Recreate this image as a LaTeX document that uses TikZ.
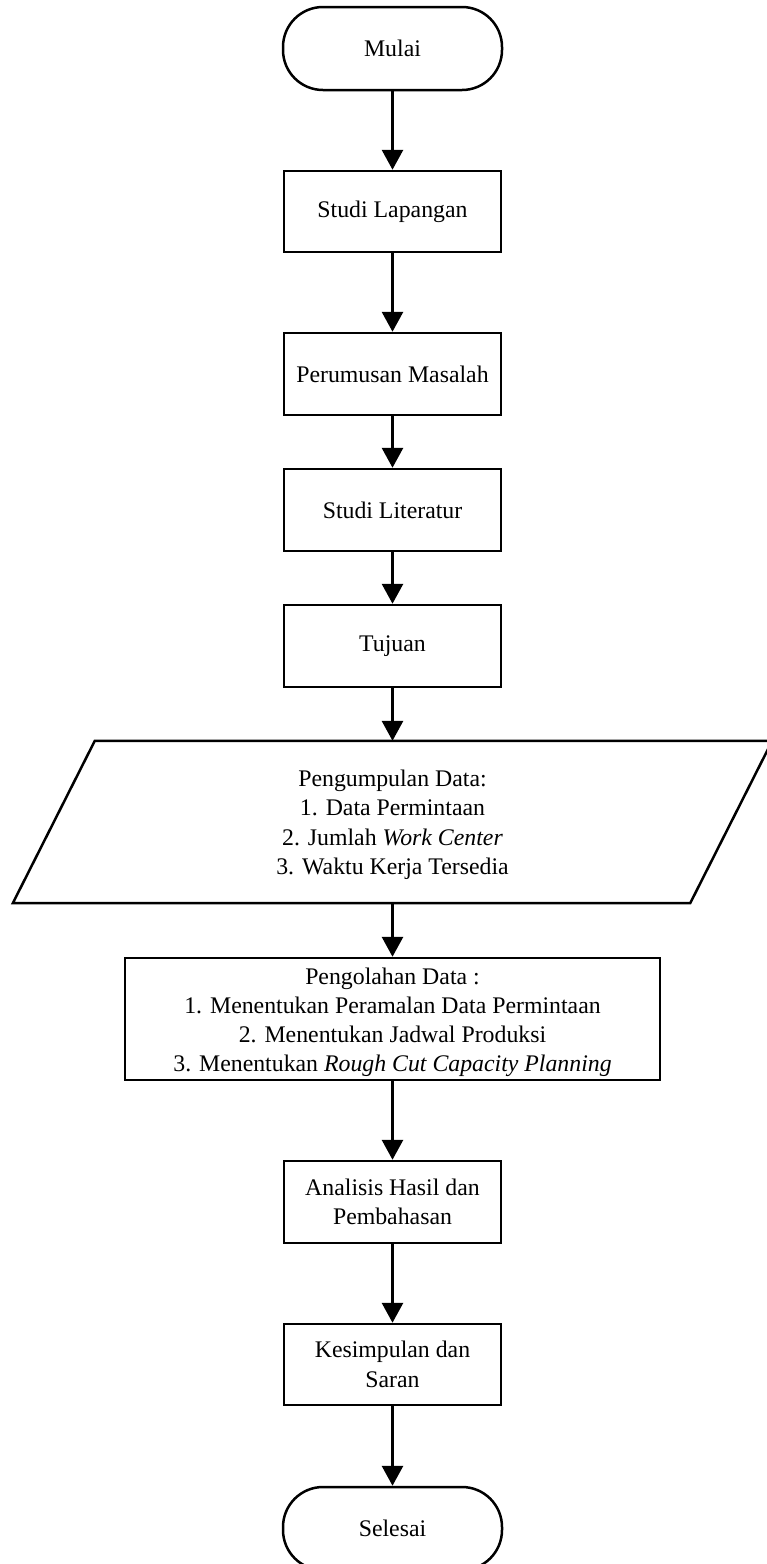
\documentclass[tikz,border=0pt]{standalone}
\usepackage{fontspec}
\setmainfont{Liberation Serif}
\usetikzlibrary{arrows.meta}
\begin{document}
\begin{tikzpicture}[x=1pt,y=-1pt,
  box/.style={draw, line width=2.5pt, minimum width=217pt, minimum height=82pt, inner sep=0pt, align=center, font=\fontsize{23.8}{29.5}\selectfont},
  term/.style={box, rounded corners=40pt, minimum width=219pt, minimum height=83pt},
  txt/.style={inner sep=0pt, align=center, font=\fontsize{23.8}{29.5}\selectfont},
  arr/.style={line width=3pt, -{Triangle[width=21pt,length=20pt]}}]
\clip (0,0) rectangle (767,1564);
\useasboundingbox (0,0) rectangle (767,1564);

\node[term] (mulai) at (392.5,48.5) {Mulai};
\node[box, minimum height=81pt] (lapangan) at (392.5,211.5) {Studi Lapangan};
\node[box] (rumusan) at (392.5,374) {Perumusan Masalah};
\node[box] (literatur) at (392.5,510) {Studi Literatur};
\node[box] (tujuan) at (392.5,646) {Tujuan};

\node[inner sep=0pt, minimum width=677pt, minimum height=162pt] (data) at (392.5,822) {};
\draw[line width=2.5pt, line join=miter]
  ([xshift=-41pt]data.south west) -- ([xshift=41pt]data.north west)
  -- ([xshift=41pt]data.north east) -- ([xshift=-41pt]data.south east) -- cycle;
\node[txt] (datatext) at (392.5,825)
  {Pengumpulan Data:\\1. Data Permintaan\\2. Jumlah \textit{Work Center}\\3. Waktu Kerja Tersedia};

\node[box, minimum width=535pt, minimum height=122pt] (olah) at (392.5,1019) {};
\node[txt, font=\fontsize{23.8}{29}\selectfont] (olahtext) at (392.5,1022)
  {Pengolahan Data :\\1. Menentukan Peramalan Data Permintaan\\2. Menentukan Jadwal Produksi\\3. Menentukan \textit{Rough Cut Capacity Planning}};
\node[box] (analisis) at (392.5,1202) {Analisis Hasil dan\\Pembahasan};
\node[box, minimum height=81pt] (simpul) at (392.5,1364.5) {Kesimpulan dan\\Saran};
\node[term] (selesai) at (392.5,1528.5) {Selesai};

\draw[arr] (mulai) -- (lapangan);
\draw[arr] (lapangan) -- (rumusan);
\draw[arr] (rumusan) -- (literatur);
\draw[arr] (literatur) -- (tujuan);
\draw[arr] (tujuan.south) -- (data.north);
\draw[arr] (data.south) -- (olah.north);
\draw[arr] (olah) -- (analisis);
\draw[arr] (analisis) -- (simpul);
\draw[arr] (simpul) -- (selesai);
\end{tikzpicture}
\end{document}
